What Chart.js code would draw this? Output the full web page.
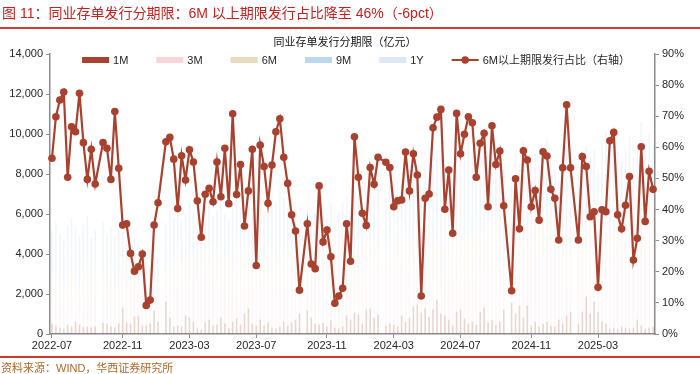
<!DOCTYPE html>
<html>
<head>
<meta charset="utf-8">
<script src="https://cdn.jsdelivr.net/npm/chart.js@4.4.1/dist/chart.umd.min.js"></script>
<style>
  html, body { margin: 0; padding: 0; background: #fff; }
  #wrap { position: relative; width: 700px; height: 374px; overflow: hidden; }
  #c { position: absolute; left: 0; top: 0; }
  .t { position: absolute; white-space: nowrap; font-family: "Liberation Sans", "Noto Sans CJK SC", sans-serif; }
  #title { left: 2px; top: 2px; font-size: 14px; color: #C8201E; }
  #rule1 { position: absolute; left: 0; top: 27px; width: 700px; height: 2px; background: #D03A2E; }
  #ctitle { left: 345px; top: 33px; transform: translateX(-50%); font-size: 11px; color: #111; }
  #rule2 { position: absolute; left: 0; top: 356px; width: 700px; height: 1.5px; background: #D03A2E; }
  #src { left: 1px; top: 359px; font-size: 11px; color: #B0682A; }
</style>
</head>
<body>
<div id="wrap">
  <canvas id="c" width="700" height="374"></canvas>
  <div class="t" id="title">图 11：同业存单发行分期限：6M 以上期限发行占比降至 46%（-6pct）</div>
  <div id="rule1"></div>
  <div class="t" id="ctitle">同业存单发行分期限（亿元）</div>
  <div id="rule2"></div>
  <div class="t" id="src">资料来源：WIND，华西证券研究所</div>
</div>
<script>
// 周度发行量（亿元），null = 节假日周无数据
const m1 = [500,400,300,250,450,350,600,450,350,350,
  300,350,null,550,500,350,300,500,1300,550,
  500,850,900,400,400,500,1150,600,null,1600,
  800,350,400,350,900,800,600,250,200,550,
  700,400,450,800,500,250,600,750,450,1000,
  1250,500,400,700,400,550,300,250,350,600,
  400,550,700,1000,null,1150,800,500,450,550,
  350,700,300,250,350,900,700,1050,950,500,
  1200,1250,800,950,null,400,500,450,350,900,
  600,800,1350,1450,1050,1250,850,1200,1700,1000,
  900,700,400,1100,1200,750,500,600,450,1100,
  1300,550,700,450,600,1200,null,1550,1000,1400,
  800,1400,400,600,350,500,600,400,350,700,
  500,900,1100,null,500,1100,1850,1000,1600,1100,
  600,500,250,300,250,350,300,250,300,700,
  400,250,300,350]
const m3 = [1760,1290,940,790,2230,1590,1250,660,1770,2620,
  1650,2340,null,1610,1510,2370,1070,1930,2010,2420,
  2690,2980,2630,2570,2870,3240,1900,1600,null,500,
  1480,2190,3420,2040,2130,1890,2130,3070,3380,2920,
  2860,2990,2320,2830,1920,3060,1270,3060,2420,2850,
  2310,2020,3810,1970,2420,3220,2900,2060,1870,2340,
  2850,3090,3580,3290,null,2860,3540,4240,3060,3890,
  3510,4190,4660,5110,5280,3560,4130,1550,2420,3420,
  3490,2280,2780,2200,null,2650,2940,4220,3830,3480,
  2800,3250,2060,2360,5010,3430,3990,1660,1090,1470,
  3950,3370,4870,1640,2460,2510,2460,2390,3720,2340,
  2110,4360,2680,3640,3310,3620,null,4820,3560,4230,
  3190,2660,4680,4250,4980,3350,3590,4310,4220,4600,
  3650,1620,2770,null,4940,2770,2490,4420,3980,5700,
  5110,5630,3430,3360,5360,5340,5150,4640,6410,5800,
  3820,5620,4470,4730]
const m6 = [880,1170,1130,1100,820,1160,1040,1140,1010,880,
  860,750,null,1030,900,800,1030,830,540,490,
  330,290,290,310,100,140,500,480,null,1020,
  1180,980,770,960,890,1170,1010,740,490,850,
  940,750,1030,860,1070,720,1360,930,1030,620,
  910,1100,360,1240,980,820,1140,1290,1490,1160,
  920,680,640,210,null,660,380,380,960,560,
  580,480,160,220,290,730,440,1350,1030,740,
  750,1220,1000,1250,null,1130,1190,970,940,1000,
  1440,1040,1410,1200,250,1090,1190,1690,1920,1930,
  980,1360,760,2000,1510,1750,2050,1890,1270,1640,
  1860,1020,2050,1470,1680,1010,null,310,1360,860,
  1710,1540,1060,1250,920,1640,1680,1230,1060,690,
  1430,2120,1330,null,710,1540,1520,980,1090,360,
  1140,1190,1810,2020,1050,870,1160,1500,630,870,
  1910,1000,1570,1330]
const m9 = [440,590,560,550,410,580,520,570,510,440,
  430,380,null,520,450,400,510,420,270,240,
  170,150,150,150,50,70,250,240,null,510,
  590,490,390,480,450,590,510,370,240,420,
  470,380,510,430,540,360,680,460,510,310,
  460,550,180,620,490,410,570,640,750,580,
  460,340,320,110,null,330,190,190,480,280,
  290,240,80,110,150,370,220,680,510,370,
  380,610,500,620,null,560,590,480,470,500,
  720,520,700,600,130,540,590,850,960,960,
  490,680,380,1000,760,880,1030,950,630,820,
  930,510,1020,740,840,510,null,150,680,430,
  860,770,530,620,460,820,840,610,530,350,
  710,1060,660,null,350,770,760,490,540,180,
  570,600,900,1010,520,440,580,750,310,440,
  960,500,780,660]
const y1 = [1620,2150,2070,2010,1490,2120,1890,2080,1860,1610,
  1560,1380,null,1890,1640,1480,1890,1520,980,900,
  610,530,530,570,180,250,900,880,null,1870,
  2150,1790,1420,1770,1630,2150,1850,1370,890,1560,
  1730,1380,1890,1580,1970,1310,2490,1700,1890,1120,
  1670,2030,650,2270,1810,1500,2090,2360,2740,2120,
  1670,1240,1160,390,null,1200,690,690,1750,1020,
  1070,890,300,410,530,1340,810,2470,1890,1370,
  1380,2240,1820,2280,null,2060,2180,1780,1710,1820,
  2640,1890,2580,2190,460,1990,2180,3100,3530,3540,
  1780,2490,1390,3660,2770,3210,3760,3470,2330,3000,
  3400,1860,3750,2700,3070,1860,null,570,2500,1580,
  3140,2830,1930,2280,1690,2990,3090,2250,1940,1260,
  2610,3900,2440,null,1300,2820,2780,1810,1990,660,
  2080,2180,3310,3710,1920,1600,2110,2760,1150,1590,
  3510,1830,2880,2430]
// 6M以上期限发行占比（%）
const pct = [56.5,69.8,75.2,77.8,50.4,66.6,65.0,77.4,61.5,49.7,
  59.4,48.2,null,61.5,59.7,49.7,71.5,53.3,35.0,35.4,
  25.9,20.2,21.6,25.7,9.2,10.9,35.0,42.2,null,61.8,
  63.2,56.2,40.3,57.3,49.5,59.2,55.3,42.8,31.1,44.9,
  46.8,42.5,55.3,44.1,59.7,41.9,70.8,44.8,54.5,34.7,
  46.0,59.4,22.0,60.7,53.8,42.0,54.3,65.0,69.2,56.8,
  48.4,38.3,33.1,14.1,null,35.4,22.5,21.0,47.6,29.6,
  33.4,24.8,9.9,12.2,14.7,35.4,23.4,63.4,50.4,38.8,
  34.9,53.5,48.1,56.8,null,55.2,53.5,40.9,42.8,43.1,
  58.5,46.0,57.9,51.1,12.2,43.6,45.0,66.3,69.7,72.2,
  40.1,52.7,32.4,70.9,57.9,64.2,69.8,67.9,50.4,61.3,
  64.5,40.9,66.9,54.5,58.8,41.2,null,13.9,49.9,33.8,
  58.9,55.9,40.9,46.1,36.6,58.6,57.2,46.5,43.6,30.2,
  53.4,73.7,53.4,null,30.2,57.0,53.8,37.7,39.3,15.0,
  39.9,39.3,62.1,64.8,38.3,33.8,41.4,50.6,23.8,30.8,
  60.2,36.2,52.3,46.5]

// 周度日期（自 2022-07-01 起每周）
const weeks = []
for (let i = 0; i < pct.length; i++) {
  const d = new Date(Date.UTC(2022, 6, 1 + 7 * i))
  weeks.push(d.toISOString().slice(0, 10))
}

// 只在 3/7/11 月初附近的那一周显示刻度
function monthTick(i) {
  const d = new Date(weeks[i] + 'T00:00:00Z').getTime()
  const a = new Date(d + 3 * 864e5), b = new Date(d - 4 * 864e5)
  if (a.getUTCMonth() === b.getUTCMonth()) return null
  const m = a.getUTCMonth() + 1
  if (m % 4 !== 3) return null
  return a.getUTCFullYear() + '-' + String(m).padStart(2, '0')
}

const lineColor = '#A9412F'
const axisGray = '#8c8c8c'
const tickFont = { family: '"Liberation Sans", Arial, sans-serif', size: 11 }

const topLegend = {
  id: 'topLegend',
  afterDraw(chart) {
    const ctx = chart.ctx
    ctx.save()
    ctx.font = '11px "Liberation Sans", "Noto Sans CJK SC", sans-serif'
    const items = chart.data.datasets.map(ds => ({ text: ds.label, color: ds.legendColor, line: ds.type === 'line' }))
    const boxW = 27, gap = 4, space = 28
    const widths = items.map(it => boxW + gap + ctx.measureText(it.text).width)
    const total = widths.reduce((a, b) => a + b, 0) + space * (items.length - 1)
    let x = 356 - total / 2
    const y = 60
    items.forEach((it, i) => {
      if (it.line) {
        ctx.strokeStyle = it.color
        ctx.lineWidth = 2
        ctx.beginPath(); ctx.moveTo(x, y); ctx.lineTo(x + boxW, y); ctx.stroke()
        ctx.fillStyle = it.color
        ctx.beginPath(); ctx.arc(x + boxW / 2, y, 3.8, 0, Math.PI * 2); ctx.fill()
      } else {
        ctx.fillStyle = it.color
        ctx.fillRect(x, y - 3, boxW, 6)
      }
      ctx.fillStyle = '#262626'
      ctx.textBaseline = 'middle'
      ctx.fillText(it.text, x + boxW + gap, y + 0.5)
      x += widths[i] + space
    })
    ctx.restore()
  }
}

function bar(label, data, color, legendColor) {
  return { type: 'bar', label, data, backgroundColor: color, legendColor,
    barThickness: 1, yAxisID: 'y', stack: 's', order: 1 }
}

new Chart(document.getElementById('c'), {
  type: 'bar',
  data: {
    labels: weeks,
    datasets: [
      bar('1M', m1, 'rgba(169,65,47,0.22)', '#A9412F'),
      bar('3M', m3, 'rgba(240,190,198,0.13)', '#F7D5D8'),
      bar('6M', m6, 'rgba(225,198,160,0.13)', '#EBD9BF'),
      bar('9M', m9, 'rgba(160,195,235,0.14)', '#BDD7EE'),
      bar('1Y', y1, 'rgba(190,212,238,0.2)', '#DCE8F4'),
      {
        type: 'line', label: '6M以上期限发行占比（右轴）', data: pct, yAxisID: 'y1',
        borderColor: lineColor, backgroundColor: lineColor, legendColor: lineColor,
        borderWidth: 2.2, pointRadius: 3.8, pointBackgroundColor: lineColor,
        pointBorderWidth: 0, tension: 0, spanGaps: true, order: 0
      }
    ]
  },
  options: {
    responsive: false,
    animation: false,
    devicePixelRatio: 1,
    layout: { padding: { top: 54, left: 0, right: 0, bottom: 0 } },
    plugins: { legend: { display: false }, tooltip: { enabled: false } },
    scales: {
      x: {
        stacked: true,
        offset: true,
        grid: { display: true, drawOnChartArea: false, offset: false, tickLength: 4, color: axisGray },
        border: { color: axisGray, width: 1.5 },
        ticks: {
          autoSkip: false, maxRotation: 0, minRotation: 0, padding: 1,
          color: '#262626', font: tickFont,
          callback: (v, i) => monthTick(i)
        },
        afterFit(s) { s.height = 40 }
      },
      y: {
        position: 'left', stacked: true, min: 0, max: 14000,
        grid: { drawOnChartArea: false, tickLength: 4, color: axisGray },
        border: { color: axisGray, width: 1.5 },
        ticks: { stepSize: 2000, padding: 3, color: '#262626', font: tickFont,
          callback: v => v.toLocaleString('en-US') },
        afterFit(s) { s.width = 50 }
      },
      y1: {
        position: 'right', min: 0, max: 90,
        grid: { drawOnChartArea: false, tickLength: 4, color: axisGray },
        border: { color: axisGray, width: 1.5 },
        ticks: { stepSize: 10, padding: 3, color: '#262626', font: tickFont,
          callback: v => v + '%' },
        afterFit(s) { s.width = 45 }
      }
    }
  },
  plugins: [topLegend]
})
</script>
</body>
</html>
